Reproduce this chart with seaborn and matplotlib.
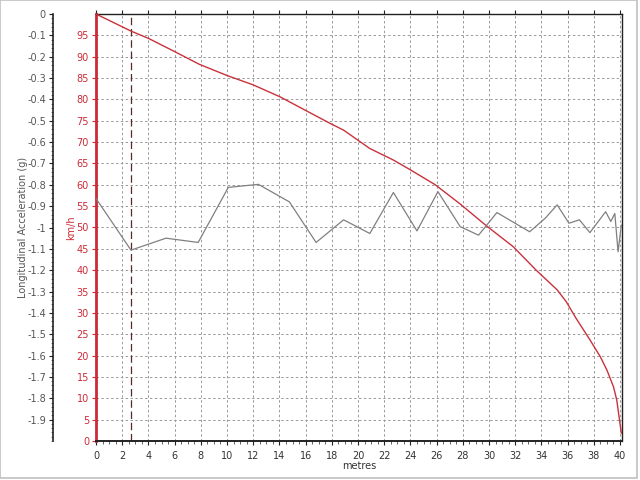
import numpy as np
import pandas as pd
import seaborn as sns
import matplotlib.pyplot as plt
from matplotlib.ticker import MultipleLocator
from matplotlib.patches import Rectangle

# speed trace (km/h) against distance (metres)
speed_dist = [0, 2.67, 4.0, 6.0, 7.9, 10.0, 12.0, 14.05, 15.95, 17.86, 18.9, 20.9,
              22.7, 24.0, 25.9, 27.8, 29.8, 31.85, 33.6, 35.2, 35.9, 36.65, 37.7,
              38.5, 39.0, 39.5, 39.75, 40.1]
speed_kmh = [100, 96.0, 94.3, 91.2, 88.2, 85.6, 83.4, 80.6, 77.5, 74.4, 72.8, 68.5,
             65.8, 63.5, 60.0, 55.5, 50.4, 45.5, 40.0, 35.4, 32.6, 28.7, 23.7,
             19.7, 16.6, 12.7, 9.6, 1.8]

# longitudinal acceleration (g) against distance (metres)
acc_dist = [0, 2.67, 5.34, 7.8, 10.1, 12.4, 14.76, 16.8, 18.9, 20.9, 22.7, 24.5,
            26.1, 27.8, 29.2, 30.6, 33.1, 34.3, 35.2, 36.1, 36.9, 37.7, 38.9,
            39.3, 39.6, 39.85, 40.1]
acc_g = [-0.864, -1.106, -1.05, -1.07, -0.812, -0.798, -0.88, -1.07, -0.964, -1.028,
         -0.836, -1.016, -0.832, -0.996, -1.036, -0.93, -1.02, -0.956, -0.894,
         -0.98, -0.964, -1.024, -0.926, -0.972, -0.934, -1.114, -0.988]

g_ticks = [0, -0.1, -0.2, -0.3, -0.4, -0.5, -0.6, -0.7, -0.8, -0.9, -1,
           -1.1, -1.2, -1.3, -1.4, -1.5, -1.6, -1.7, -1.8, -1.9]
g_labels = ["0", "-0.1", "-0.2", "-0.3", "-0.4", "-0.5", "-0.6", "-0.7", "-0.8",
            "-0.9", "-1", "-1.1", "-1.2", "-1.3", "-1.4", "-1.5", "-1.6", "-1.7",
            "-1.8", "-1.9"]

marker_x = 2.67

sns.set_style("ticks")
plt.rcParams['font.family'] = ['DejaVu Sans']

red = "#cc2a36"
grey_txt = "#555555"

fig = plt.figure(figsize=(6.4, 4.8), dpi=100)
ax = fig.add_axes([96 / 640, 1 - 441 / 480, 526 / 640, 427 / 480])

speed_df = pd.DataFrame({"metres": speed_dist, "kmh": speed_kmh})
acc_df = pd.DataFrame({"metres": acc_dist, "g": acc_g})

sns.lineplot(data=speed_df, x="metres", y="kmh", ax=ax, color="#c8323c",
             lw=1.0, estimator=None, zorder=3)
ax.set_xlim(0, 40.15)
ax.set_ylim(0, 100)
ax.xaxis.set_major_locator(MultipleLocator(2))
ax.xaxis.set_minor_locator(MultipleLocator(0.5))
ax.set_yticks(np.arange(0, 100, 5))
ax.grid(True, which="major", color="#9a9a9a", linestyle=(0, (2.5, 2.5)), lw=0.7)
ax.axvline(marker_x, color="#5a2828", linestyle=(0, (6, 3)), lw=0.9, zorder=2)

for s in ["top", "right", "bottom"]:
    ax.spines[s].set_color("#222222")
    ax.spines[s].set_linewidth(1.0)
ax.spines["bottom"].set_linewidth(1.4)
ax.spines["left"].set_color(red)
ax.spines["left"].set_linewidth(2.0)

ax.tick_params(axis="y", colors=red, labelcolor=red, labelsize=7, length=3,
               width=0.8, pad=2, direction="out")
ax.tick_params(axis="x", which="major", colors="#222222", labelcolor="#333333",
               labelsize=7, length=3, width=0.8, pad=4, top=True)
ax.tick_params(axis="x", which="minor", colors="#222222", length=1.8, width=0.5, top=False)

ax.set_xlabel("metres", fontsize=7, color="#333333")
ax.xaxis.set_label_coords(0.5, -0.047)
ax.set_ylabel("km/h", fontsize=7, color=red)
ax.yaxis.set_label_coords(-0.038, 0.5)

# outer acceleration axis
ax2 = ax.twinx()
sns.lineplot(data=acc_df, x="metres", y="g", ax=ax2, color="#808080",
             lw=0.9, estimator=None)
ax2.set_ylim(-2, 0)
ax2.set_yticks(g_ticks)
ax2.set_yticklabels(g_labels)
ax2.yaxis.set_minor_locator(MultipleLocator(0.02))
ax2.yaxis.set_ticks_position("left")
ax2.yaxis.set_label_position("left")
ax2.spines["left"].set_position(("axes", -0.082))
ax2.spines["left"].set_visible(True)
ax2.spines["left"].set_color("#222222")
ax2.spines["left"].set_linewidth(1.2)
ax2.spines["right"].set_visible(False)
ax2.spines["top"].set_visible(False)
ax2.spines["bottom"].set_visible(False)
ax2.tick_params(axis="y", which="major", colors="#222222", labelcolor=grey_txt,
                labelsize=7, length=3, width=0.8, pad=2)
ax2.tick_params(axis="y", which="minor", colors="#444444", length=1.5, width=0.5)
ax2.set_ylabel("Longitudinal Acceleration (g)", fontsize=7, color=grey_txt)
ax2.yaxis.set_label_coords(-0.129, 0.5)

fig.add_artist(Rectangle((0, 0.004), 0.996, 0.996, transform=fig.transFigure,
                         fill=False, edgecolor="#c0c0c0", lw=1.2))

fig.savefig("out.png", dpi=100)
